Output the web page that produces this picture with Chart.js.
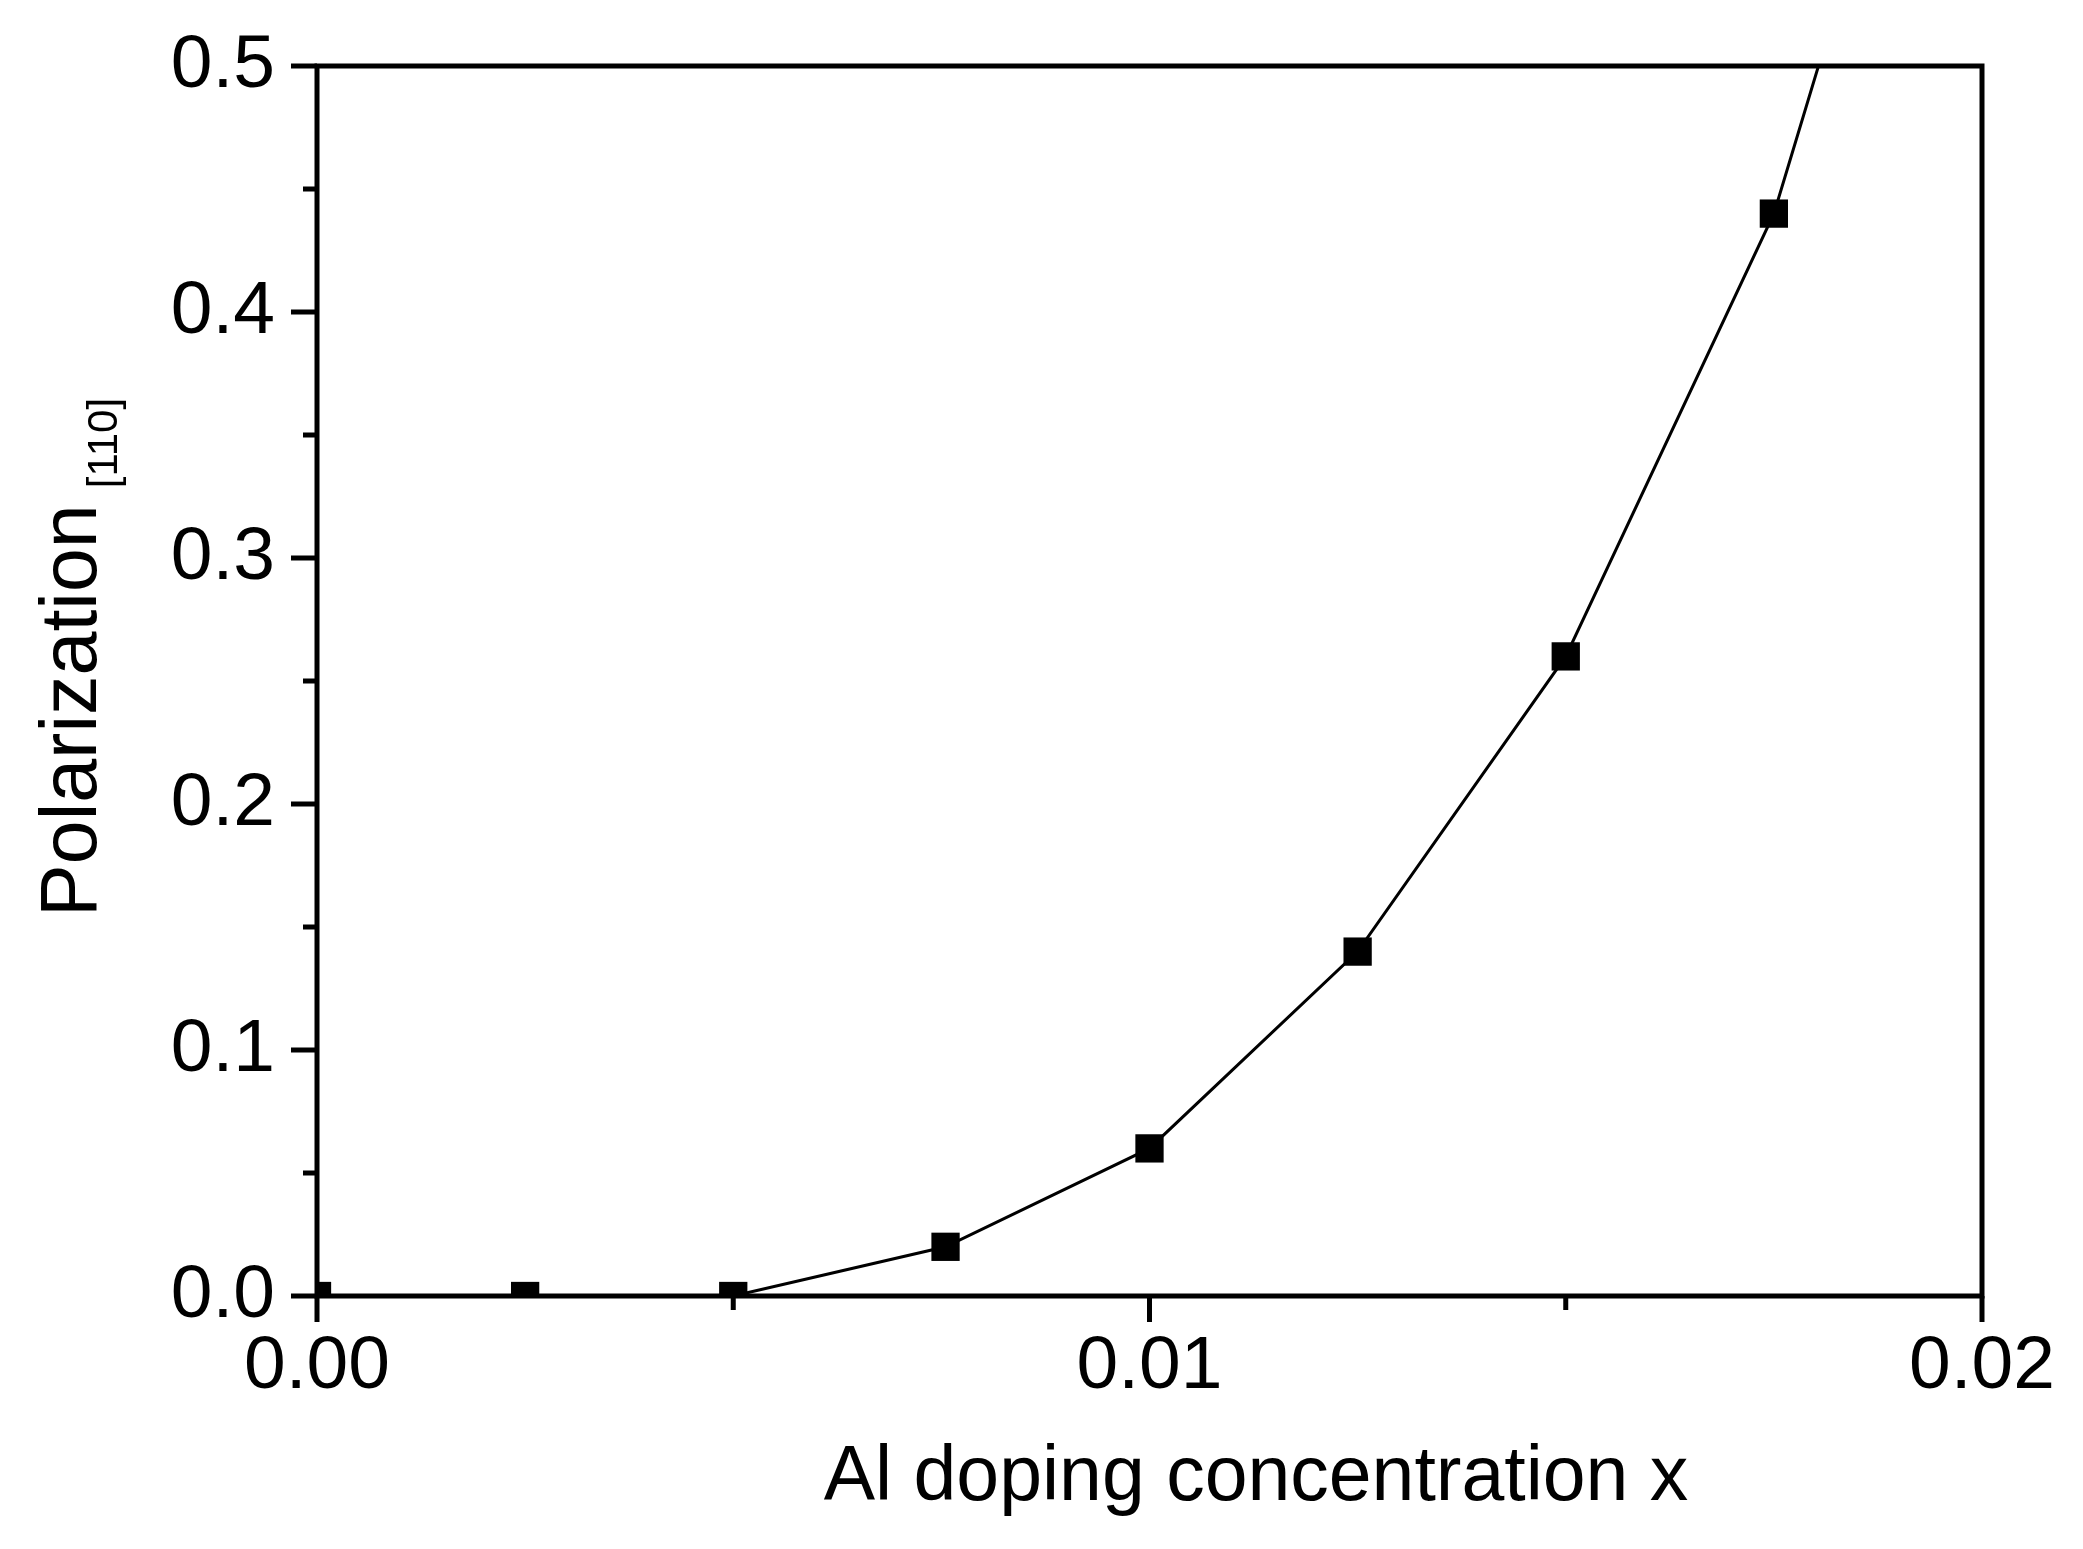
<!DOCTYPE html>
<html>
<head>
<meta charset="utf-8">
<title>Polarization vs Al doping</title>
<script src="https://cdn.jsdelivr.net/npm/chart.js@4/dist/chart.umd.min.js"></script>
<style>
  body { margin: 0; background: #fff; }
  #wrap { width: 2083px; height: 1549px; position: relative; }
</style>
</head>
<body>
<div id="wrap"><canvas id="polar-chart"></canvas></div>
<script>
// -------- DATA -------- //
const dopingX = [0, 0.0025, 0.005, 0.00755, 0.01, 0.0125, 0.015, 0.0175];
const polarization = [0, 0, 0, 0.02, 0.06, 0.14, 0.26, 0.44];
// the drawn curve runs on past the last point and leaves through the top
const curveX = [0, 0.0025, 0.005, 0.00755, 0.01, 0.0125, 0.015, 0.0175, 0.02];
const curveY = [0, 0, 0, 0.02, 0.06, 0.14, 0.26, 0.44, 0.72];
const xTickLabels = ['0.00', '0.01', '0.02'];
const yTickLabels = ['0.0', '0.1', '0.2', '0.3', '0.4', '0.5'];

const xTitle = 'Al doping concentration x';
const yTitle = 'Polarization';
const yTitleSub = '[110]';

Chart.defaults.font.family = "'Liberation Sans', Arial, sans-serif";
Chart.defaults.color = '#000';

const markerPoints = dopingX.map((x, i) => ({ x: x, y: polarization[i] }));
const curvePoints = curveX.map((x, i) => ({ x: x, y: curveY[i] }));

// label a tick only if it sits on one of the listed values, the rest are minor ticks
function pickLabel(list) {
  return function (value) {
    const hit = list.find(txt => Math.abs(Number(txt) - value) < 1e-9);
    return hit ? hit : '';
  };
}

// -------- FRAME, TICKS AND TITLES -------- //
const framePlugin = {
  id: 'frame',
  afterDatasetsDraw(chart) {
    const ctx = chart.ctx;
    const area = chart.chartArea;
    const xs = chart.scales.x;
    const ys = chart.scales.y;
    ctx.save();
    ctx.strokeStyle = '#000';
    ctx.lineWidth = 5;
    ctx.lineCap = 'butt';
    ctx.strokeRect(area.left, area.top, area.right - area.left, area.bottom - area.top);

    ctx.beginPath();
    xs.ticks.forEach(t => {
      const px = xs.getPixelForValue(t.value);
      const len = t.label ? 26 : 14;
      ctx.moveTo(px, area.bottom);
      ctx.lineTo(px, area.bottom + len);
    });
    ys.ticks.forEach(t => {
      const py = ys.getPixelForValue(t.value);
      const len = t.label ? 26 : 14;
      ctx.moveTo(area.left, py);
      ctx.lineTo(area.left - len, py);
    });
    ctx.stroke();

    // x title
    ctx.fillStyle = '#000';
    ctx.font = "77px 'Liberation Sans', Arial, sans-serif";
    ctx.textAlign = 'center';
    ctx.textBaseline = 'alphabetic';
    ctx.fillText(xTitle, 1256, 1500);

    // y title with subscript
    ctx.translate(96, 917);
    ctx.rotate(-Math.PI / 2);
    ctx.textAlign = 'left';
    ctx.font = "79px 'Liberation Sans', Arial, sans-serif";
    ctx.fillText(yTitle, 0, 0);
    const w = ctx.measureText(yTitle).width;
    ctx.font = "42px 'Liberation Sans', Arial, sans-serif";
    ctx.fillText(yTitleSub, w + 16, 21);
    ctx.restore();
  }
};

// -------- CHART -------- //
const polarCtx = document.getElementById('polar-chart');

const polarChart = new Chart(polarCtx, {
  type: 'scatter',
  data: {
    datasets: [
      {
        label: 'Polarization',
        data: markerPoints,
        pointStyle: 'rect',
        pointRadius: 20,
        pointBorderWidth: 0,
        backgroundColor: '#000',
        borderColor: '#000',
        showLine: false,
        clip: 0
      },
      {
        type: 'line',
        label: 'curve',
        data: curvePoints,
        borderColor: '#000',
        borderWidth: 3,
        pointRadius: 0,
        tension: 0,
        fill: false,
        clip: 0
      }
    ]
  },
  plugins: [framePlugin],
  options: {
    responsive: true,
    maintainAspectRatio: false,
    animation: false,
    layout: {
      padding: { left: 0, top: 66, right: 101, bottom: 0 }
    },
    scales: {
      x: {
        type: 'linear',
        min: 0,
        max: 0.02,
        grid: {
          display: true,
          drawOnChartArea: false,
          drawTicks: true,
          tickLength: 26,
          tickColor: 'rgba(0,0,0,0)'
        },
        border: { display: false },
        ticks: {
          stepSize: 0.005,
          autoSkip: false,
          maxRotation: 0,
          padding: 0,
          font: { size: 75 },
          callback: pickLabel(xTickLabels)
        },
        afterFit(scale) { scale.height = 253; }
      },
      y: {
        type: 'linear',
        min: 0,
        max: 0.5,
        grid: {
          display: true,
          drawOnChartArea: false,
          drawTicks: true,
          tickLength: 42,
          tickColor: 'rgba(0,0,0,0)'
        },
        border: { display: false },
        ticks: {
          stepSize: 0.05,
          autoSkip: false,
          padding: 0,
          font: { size: 75 },
          callback: pickLabel(yTickLabels)
        },
        afterFit(scale) { scale.width = 317; }
      }
    },
    plugins: {
      legend: { display: false },
      tooltip: { enabled: false }
    }
  }
});
</script>
</body>
</html>
